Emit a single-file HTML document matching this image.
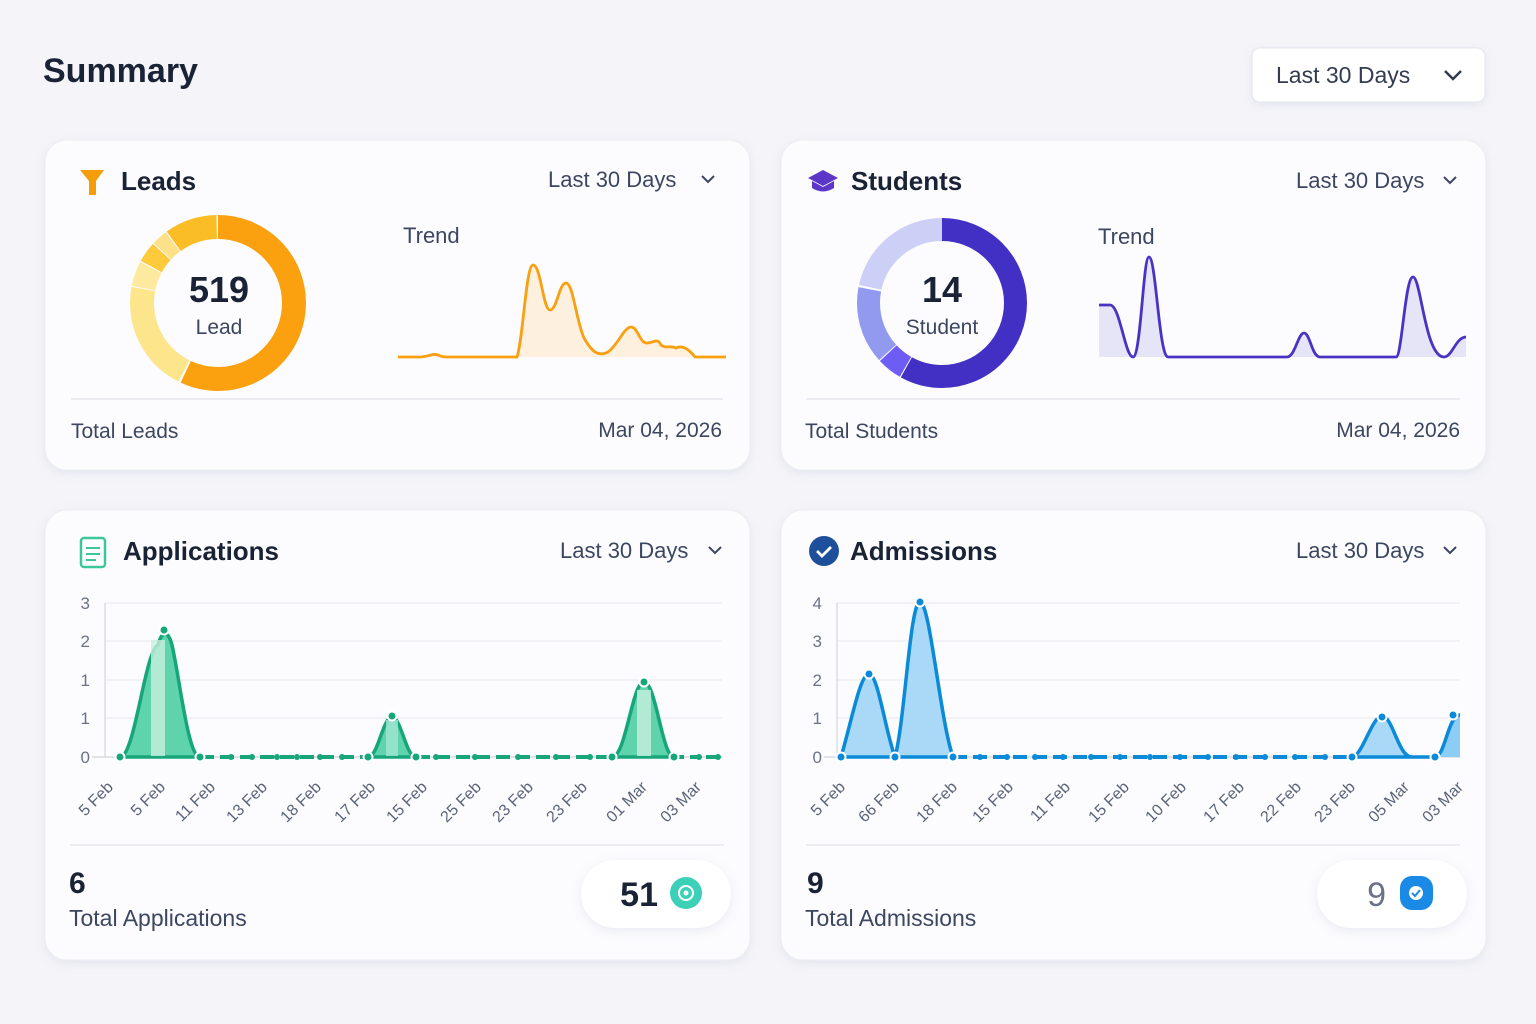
<!DOCTYPE html>
<html><head><meta charset="utf-8"><style>
html,body{margin:0;padding:0;background:#f5f5f9;}
svg{display:block;font-family:"Liberation Sans",sans-serif;}
</style></head><body>
<svg width="1536" height="1024" viewBox="0 0 1536 1024" xmlns="http://www.w3.org/2000/svg">
<defs>
<filter id="sh" x="-10%" y="-10%" width="120%" height="130%"><feDropShadow dx="0" dy="3" stdDeviation="5" flood-color="#8890b0" flood-opacity="0.16"/></filter>
</defs>
<rect width="1536" height="1024" fill="#f5f5f9"/>
<text x="43" y="82" font-size="34" font-weight="bold" fill="#1a2236">Summary</text>
<rect x="1252" y="48" width="233" height="54" rx="8" fill="#fff" stroke="#e3e5ee" filter="url(#sh)"/>
<text x="1276" y="83" font-size="23" fill="#333b52">Last 30 Days</text>
<path d="M1445 71 l8 8 l8 -8" fill="none" stroke="#333b52" stroke-width="2.5"/>

<rect x="45" y="140" width="705" height="330" rx="22" fill="#fcfcfe" stroke="#eceef4" filter="url(#sh)"/>
<rect x="781" y="140" width="705" height="330" rx="22" fill="#fcfcfe" stroke="#eceef4" filter="url(#sh)"/>
<rect x="45" y="510" width="705" height="450" rx="22" fill="#fcfcfe" stroke="#eceef4" filter="url(#sh)"/>
<rect x="781" y="510" width="705" height="450" rx="22" fill="#fcfcfe" stroke="#eceef4" filter="url(#sh)"/>

<!-- Leads -->
<path d="M80 170 h24 l-8 11 v14 h-7 v-14 z" fill="#f59e0b"/>
<text x="121" y="190" font-size="26" font-weight="bold" fill="#1a2236">Leads</text>
<text x="548" y="187" font-size="22" fill="#3d4660">Last 30 Days</text>
<path d="M702 176 l6 6 l6 -6" fill="none" stroke="#3d4660" stroke-width="2"/>
<g transform="rotate(-90 218 303)" fill="none" stroke-width="24">
<circle cx="218" cy="303" r="76" stroke="#fba00e" stroke-dasharray="272 478"/>
<circle cx="218" cy="303" r="76" stroke="#fde58c" stroke-dasharray="98 478" stroke-dashoffset="-274"/>
<circle cx="218" cy="303" r="76" stroke="#fdea9e" stroke-dasharray="22 478" stroke-dashoffset="-373"/>
<circle cx="218" cy="303" r="76" stroke="#fcca3a" stroke-dasharray="18 478" stroke-dashoffset="-396"/>
<circle cx="218" cy="303" r="76" stroke="#fde08a" stroke-dasharray="14 478" stroke-dashoffset="-415"/>
<circle cx="218" cy="303" r="76" stroke="#fbbd26" stroke-dasharray="46 478" stroke-dashoffset="-430"/>
</g>
<text x="219" y="302" font-size="36" font-weight="bold" fill="#1a2236" text-anchor="middle">519</text>
<text x="219" y="334" font-size="21" fill="#3d4660" text-anchor="middle">Lead</text>
<text x="403" y="243" font-size="22" fill="#3d4660">Trend</text>
<path d="M398 357 L420 357 C428 357 432 353 438 355 C442 357 445 357 450 357 L517 357 C523 340 526 265 533 265 C541 265 543 310 550 310 C557 310 559 283 566 283 C573 283 576 320 584 338 C592 352 598 357 608 352 C618 345 624 327 631 327 C638 327 640 344 647 343 C654 343 657 337 661 345 C666 349 670 345 676 348 C682 345 688 348 695 357 L726 357 L726 357 Z" fill="#fdf0df"/>
<path d="M398 357 L420 357 C428 357 432 353 438 355 C442 357 445 357 450 357 L517 357 C523 340 526 265 533 265 C541 265 543 310 550 310 C557 310 559 283 566 283 C573 283 576 320 584 338 C592 352 598 357 608 352 C618 345 624 327 631 327 C638 327 640 344 647 343 C654 343 657 337 661 345 C666 349 670 345 676 348 C682 345 688 348 695 357 L726 357" fill="none" stroke="#f9a012" stroke-width="2.8"/>
<line x1="71" y1="399" x2="723" y2="399" stroke="#e7e8ef" stroke-width="1.5"/>
<text x="71" y="438" font-size="21" fill="#3d4660">Total Leads</text>
<text x="722" y="437" font-size="21" fill="#3d4660" text-anchor="end">Mar 04, 2026</text>

<!-- Students -->
<path d="M808 178 l15 -8 l15 8 l-15 8 z" fill="#5b36c9"/>
<path d="M812 181 v7 q11 7 22 0 v-7 l-11 6 z" fill="#5b36c9"/>
<text x="851" y="190" font-size="26" font-weight="bold" fill="#1a2236">Students</text>
<text x="1296" y="188" font-size="22" fill="#3d4660">Last 30 Days</text>
<path d="M1444 177 l6 6 l6 -6" fill="none" stroke="#3d4660" stroke-width="2"/>
<g transform="rotate(-90 942 303)" fill="none" stroke-width="23">
<circle cx="942" cy="303" r="73.5" stroke="#4230c4" stroke-dasharray="268 462"/>
<circle cx="942" cy="303" r="73.5" stroke="#6d5df5" stroke-dasharray="22 462" stroke-dashoffset="-269"/>
<circle cx="942" cy="303" r="73.5" stroke="#929af0" stroke-dasharray="68 462" stroke-dashoffset="-292"/>
<circle cx="942" cy="303" r="73.5" stroke="#ccd0f6" stroke-dasharray="100 462" stroke-dashoffset="-362"/>
</g>
<text x="942" y="302" font-size="36" font-weight="bold" fill="#1a2236" text-anchor="middle">14</text>
<text x="942" y="334" font-size="21" fill="#3d4660" text-anchor="middle">Student</text>
<text x="1098" y="244" font-size="22" fill="#3d4660">Trend</text>
<path d="M1099 305 L1110 305 C1120 305 1125 357 1133 357 C1141 357 1143 257 1149 257 C1156 257 1159 357 1168 357 L1287 357 C1295 357 1298 333 1304 333 C1310 333 1312 357 1320 357 L1396 357 C1402 357 1405 277 1413 277 C1421 277 1425 357 1444 357 C1452 357 1456 337 1466 337 L1466 357 L1099 357 Z" fill="#e6e5f8"/>
<path d="M1099 305 L1110 305 C1120 305 1125 357 1133 357 C1141 357 1143 257 1149 257 C1156 257 1159 357 1168 357 L1287 357 C1295 357 1298 333 1304 333 C1310 333 1312 357 1320 357 L1396 357 C1402 357 1405 277 1413 277 C1421 277 1425 357 1444 357 C1452 357 1456 337 1466 337" fill="none" stroke="#4a33c2" stroke-width="2.8"/>
<line x1="806" y1="399" x2="1460" y2="399" stroke="#e7e8ef" stroke-width="1.5"/>
<text x="805" y="438" font-size="21" fill="#3d4660">Total Students</text>
<text x="1460" y="437" font-size="21" fill="#3d4660" text-anchor="end">Mar 04, 2026</text>

<!-- Applications -->
<rect x="81" y="538" width="24" height="29" rx="3" fill="#fff" stroke="#3cc79a" stroke-width="2.5"/>
<path d="M86 548 h14 M86 554 h14 M86 560 h10" stroke="#3cc79a" stroke-width="2"/>
<text x="123" y="560" font-size="26" font-weight="bold" fill="#1a2236">Applications</text>
<text x="560" y="558" font-size="22" fill="#3d4660">Last 30 Days</text>
<path d="M709 547 l6 6 l6 -6" fill="none" stroke="#3d4660" stroke-width="2"/>
<g stroke="#ebecf2" stroke-width="1.2">
<line x1="105" y1="603" x2="722" y2="603"/><line x1="105" y1="641" x2="722" y2="641"/>
<line x1="105" y1="680" x2="722" y2="680"/><line x1="105" y1="718" x2="722" y2="718"/>
</g>
<line x1="105" y1="603" x2="105" y2="757" stroke="#d4d6df" stroke-width="1.2"/>
<line x1="92" y1="757" x2="722" y2="757" stroke="#cfd1da" stroke-width="1.2"/>
<g font-size="17" fill="#6b7288" text-anchor="end">
<text x="90" y="609">3</text><text x="90" y="647">2</text><text x="90" y="686">1</text><text x="90" y="724">1</text><text x="90" y="763">0</text>
</g>
<g fill="#5fd3ab" stroke="#16a67a" stroke-width="3.5">
<path d="M120 757 C135 757 145 650 158 645 C162 630 168 630 172 645 C180 680 188 757 200 757 Z"/>
<path d="M368 757 C378 757 382 720 392 716 C402 720 406 757 416 757 Z"/>
<path d="M612 757 C626 757 632 682 644 682 C656 682 662 757 674 757 Z"/>
</g>
<rect x="151" y="640" width="14" height="116" fill="#c7f0e0" opacity="0.8"/>
<rect x="386" y="720" width="12" height="36" fill="#a3e6d3" opacity="0.8"/>
<rect x="637" y="690" width="14" height="66" fill="#c7f0e0" opacity="0.8"/>
<line x1="200" y1="757" x2="368" y2="757" stroke="#16a67a" stroke-width="4" stroke-dasharray="14 6"/>
<line x1="416" y1="757" x2="612" y2="757" stroke="#16a67a" stroke-width="4" stroke-dasharray="14 6"/>
<line x1="674" y1="757" x2="720" y2="757" stroke="#16a67a" stroke-width="4" stroke-dasharray="10 6"/>
<g fill="#16a67a" stroke="#fff" stroke-width="2">
<circle cx="120" cy="757" r="4.5"/><circle cx="164" cy="630" r="4.5"/><circle cx="200" cy="757" r="4.5"/>
<circle cx="392" cy="716" r="4.5"/><circle cx="368" cy="757" r="4.5"/><circle cx="416" cy="757" r="4.5"/>
<circle cx="644" cy="682" r="4.5"/><circle cx="612" cy="757" r="4.5"/><circle cx="674" cy="757" r="4.5"/>
</g>
<g fill="#16a67a">
<circle cx="231" cy="757" r="3"/><circle cx="252" cy="757" r="3"/><circle cx="277" cy="757" r="3"/><circle cx="297" cy="757" r="3"/><circle cx="320" cy="757" r="3"/><circle cx="342" cy="757" r="3"/>
<circle cx="436" cy="757" r="3"/><circle cx="475" cy="757" r="3"/><circle cx="518" cy="757" r="3"/><circle cx="556" cy="757" r="3"/><circle cx="590" cy="757" r="3"/>
<circle cx="699" cy="757" r="3"/><circle cx="718" cy="757" r="3"/>
</g>
<g font-size="16" fill="#5b6378" text-anchor="end">
<text transform="translate(114 788) rotate(-45)">5 Feb</text>
<text transform="translate(166 788) rotate(-45)">5 Feb</text>
<text transform="translate(216 788) rotate(-45)">11 Feb</text>
<text transform="translate(268 788) rotate(-45)">13 Feb</text>
<text transform="translate(322 788) rotate(-45)">18 Feb</text>
<text transform="translate(376 788) rotate(-45)">17 Feb</text>
<text transform="translate(428 788) rotate(-45)">15 Feb</text>
<text transform="translate(482 788) rotate(-45)">25 Feb</text>
<text transform="translate(534 788) rotate(-45)">23 Feb</text>
<text transform="translate(588 788) rotate(-45)">23 Feb</text>
<text transform="translate(648 788) rotate(-45)">01 Mar</text>
<text transform="translate(702 788) rotate(-45)">03 Mar</text>
</g>
<line x1="70" y1="845" x2="724" y2="845" stroke="#e7e8ef" stroke-width="1.5"/>
<text x="69" y="893" font-size="30" font-weight="bold" fill="#1a2236">6</text>
<text x="69" y="926" font-size="23" fill="#3d4660">Total Applications</text>
<rect x="581" y="860" width="150" height="68" rx="34" fill="#fff" filter="url(#sh)"/>
<text x="658" y="906" font-size="34" font-weight="bold" fill="#1a2236" text-anchor="end">51</text>
<circle cx="686" cy="893" r="16" fill="#3dd0b8"/>
<circle cx="686" cy="893" r="7" fill="none" stroke="#fff" stroke-width="2"/>
<circle cx="686" cy="893" r="2.5" fill="#fff"/>

<!-- Admissions -->
<circle cx="824" cy="551" r="15" fill="#1e4f9a"/>
<path d="M817 551 l5 5 l9 -9" fill="none" stroke="#fff" stroke-width="2.8"/>
<text x="850" y="560" font-size="26" font-weight="bold" fill="#1a2236">Admissions</text>
<text x="1296" y="558" font-size="22" fill="#3d4660">Last 30 Days</text>
<path d="M1444 547 l6 6 l6 -6" fill="none" stroke="#3d4660" stroke-width="2"/>
<g stroke="#ebecf2" stroke-width="1.2">
<line x1="837" y1="603" x2="1460" y2="603"/><line x1="837" y1="641" x2="1460" y2="641"/>
<line x1="837" y1="680" x2="1460" y2="680"/><line x1="837" y1="718" x2="1460" y2="718"/>
</g>
<line x1="837" y1="603" x2="837" y2="757" stroke="#d4d6df" stroke-width="1.2"/>
<line x1="824" y1="757" x2="1460" y2="757" stroke="#cfd1da" stroke-width="1.2"/>
<g font-size="17" fill="#6b7288" text-anchor="end">
<text x="822" y="609">4</text><text x="822" y="647">3</text><text x="822" y="686">2</text><text x="822" y="724">1</text><text x="822" y="763">0</text>
</g>
<g fill="#a9d9f7" stroke="#0a8ad8" stroke-width="3.5">
<path d="M841 757 C852 720 860 674 869 674 C878 674 885 730 895 757 Z"/>
<path d="M895 757 C905 720 910 602 920 602 C930 602 940 720 953 757 Z"/>
<path d="M1352 757 C1362 757 1372 716 1382 716 C1393 716 1398 757 1412 757 Z"/>
</g>
<path d="M1440 757 C1448 745 1450 715 1460 715 L1460 757 Z" fill="#8ccdf5"/>
<path d="M1412 757 L1435 757 C1445 757 1448 715 1460 715" fill="none" stroke="#0a8ad8" stroke-width="3.5"/>
<line x1="953" y1="757" x2="1352" y2="757" stroke="#0a8ad8" stroke-width="4" stroke-dasharray="14 6"/>
<g fill="#0a8ad8" stroke="#fff" stroke-width="2">
<circle cx="841" cy="757" r="4.5"/><circle cx="869" cy="674" r="4.5"/><circle cx="895" cy="757" r="4.5"/>
<circle cx="920" cy="602" r="4.5"/><circle cx="953" cy="757" r="4.5"/><circle cx="1352" cy="757" r="4.5"/>
<circle cx="1382" cy="717" r="4.5"/><circle cx="1435" cy="757" r="4.5"/><circle cx="1453" cy="715" r="4.5"/>
</g>
<g fill="#0a8ad8">
<circle cx="980" cy="757" r="3"/><circle cx="1007" cy="757" r="3"/><circle cx="1035" cy="757" r="3"/><circle cx="1063" cy="757" r="3"/><circle cx="1091" cy="757" r="3"/><circle cx="1120" cy="757" r="3"/><circle cx="1150" cy="757" r="3"/><circle cx="1180" cy="757" r="3"/><circle cx="1208" cy="757" r="3"/><circle cx="1236" cy="757" r="3"/><circle cx="1265" cy="757" r="3"/><circle cx="1295" cy="757" r="3"/><circle cx="1325" cy="757" r="3"/>
</g>
<g font-size="16" fill="#5b6378" text-anchor="end">
<text transform="translate(846 788) rotate(-45)">5 Feb</text>
<text transform="translate(900 788) rotate(-45)">66 Feb</text>
<text transform="translate(958 788) rotate(-45)">18 Feb</text>
<text transform="translate(1014 788) rotate(-45)">15 Feb</text>
<text transform="translate(1071 788) rotate(-45)">11 Feb</text>
<text transform="translate(1130 788) rotate(-45)">15 Feb</text>
<text transform="translate(1187 788) rotate(-45)">10 Feb</text>
<text transform="translate(1245 788) rotate(-45)">17 Feb</text>
<text transform="translate(1302 788) rotate(-45)">22 Feb</text>
<text transform="translate(1356 788) rotate(-45)">23 Feb</text>
<text transform="translate(1410 788) rotate(-45)">05 Mar</text>
<text transform="translate(1464 788) rotate(-45)">03 Mar</text>
</g>
<line x1="806" y1="845" x2="1460" y2="845" stroke="#e7e8ef" stroke-width="1.5"/>
<text x="807" y="893" font-size="30" font-weight="bold" fill="#1a2236">9</text>
<text x="805" y="926" font-size="23" fill="#3d4660">Total Admissions</text>
<rect x="1317" y="860" width="150" height="68" rx="34" fill="#fff" filter="url(#sh)"/>
<text x="1386" y="906" font-size="34" fill="#6b7288" text-anchor="end">9</text>
<rect x="1400" y="876" width="33" height="34" rx="12" fill="#1a8ae6"/>
<circle cx="1416" cy="893" r="7" fill="#fff"/>
<path d="M1412 893 l3 3 l5 -6" fill="none" stroke="#1a8ae6" stroke-width="2"/>
</svg>
</body></html>
